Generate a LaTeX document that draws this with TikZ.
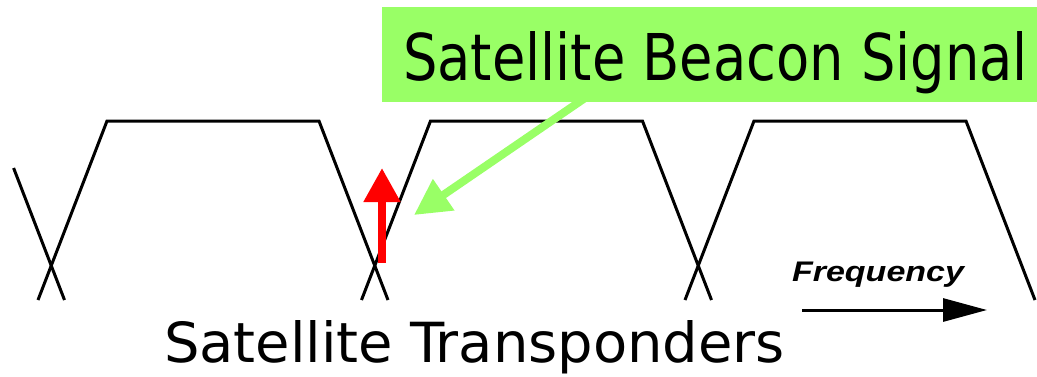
\documentclass[tikz,border=0pt]{standalone}
\usepackage{fontspec}
\usepackage{graphicx}
\usetikzlibrary{arrows.meta}
\newfontfamily\lblfont{DejaVu Sans Condensed}
\newfontfamily\freqfont{Liberation Sans}
\definecolor{beacongreen}{RGB}{153,255,102}
\tikzset{
  band/.style={draw=black, line width=3pt, line join=miter},
  lbl/.style={inner sep=0pt, outer sep=0pt, anchor=base west},
  redarrow/.style={draw=red, line width=8pt, -{Triangle[length=34pt,width=35pt]}},
  greenarrow/.style={draw=beacongreen, line width=8pt, -{Triangle[length=36pt,width=36pt]}},
  freqarrow/.style={draw=black, line width=3pt, -{Triangle[length=44pt,width=23pt]}},
}
\begin{document}
\begin{tikzpicture}[x=1pt,y=-1pt]
\useasboundingbox (0,0) rectangle (1037,376);
% transponder bands (bottom y=300, top y=121)
\coordinate (p0a) at (13.6,168);
\coordinate (p0b) at (64.5,300);
\draw[band] (p0a) -- (p0b);
\foreach \i/\x in {1/38,2/361.5,3/685}{
  \coordinate (b\i l) at (\x,300);
  \coordinate (t\i l) at (\x+69,121);
  \coordinate (t\i r) at (\x+281,121);
  \coordinate (b\i r) at (\x+350,300);
  \draw[band] (b\i l) -- (t\i l) -- (t\i r) -- (b\i r);
}
% beacon label box
\fill[beacongreen] (382,7) rectangle (1037,102);
\node[lbl] (beacon) at (403,80) {\resizebox{625pt}{49pt}{\lblfont Satellite Beacon Signal}};
\coordinate (gtail) at (585,98);
\coordinate (gtip) at (414,215);
\draw[greenarrow] (gtail) -- (gtip);
% beacon carrier
\coordinate (rbot) at (382,263);
\coordinate (rtip) at (382,168);
\draw[redarrow] (rbot) -- (rtip);
% frequency axis
\node[lbl] (freq) at (792,281) {\resizebox{172pt}{19.5pt}{\freqfont\bfseries\itshape Frequency}};
\coordinate (fa) at (802,310);
\coordinate (fb) at (987,310);
\draw[freqarrow] (fa) -- (fb);
% bottom label
\node[lbl] (transp) at (164,362) {\resizebox{621pt}{42pt}{\lblfont Satellite Transponders}};
\end{tikzpicture}
\end{document}
